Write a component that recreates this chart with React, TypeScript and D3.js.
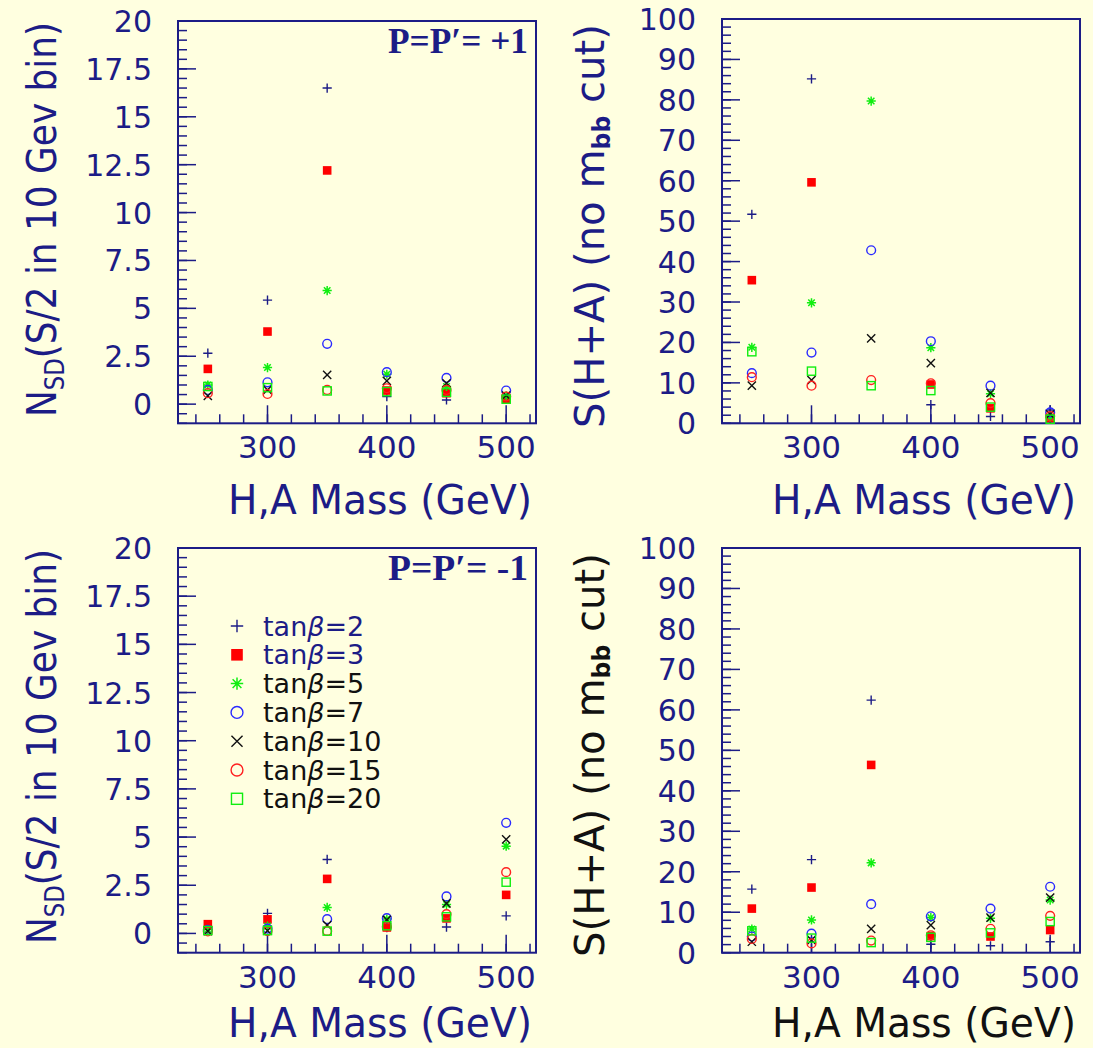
import React from "react";
import * as d3 from "d3";

const masses = [250, 300, 350, 400, 450, 500];
const seriesNames = ["tanβ=2", "tanβ=3", "tanβ=5", "tanβ=7", "tanβ=10", "tanβ=15", "tanβ=20"];
const seriesMarkers = ["plus", "fsquare", "star", "bcircle", "cross", "rcircle", "gsquare"];

// Top-left: N_SD, P=P'=+1
const nsdPlus_t2 = [2.66, 5.43, 16.5, 0.39, 0.22, 0.3];
const nsdPlus_t3 = [1.84, 3.79, 12.2, 0.71, 0.57, 0.27];
const nsdPlus_t5 = [1.0, 1.91, 5.93, 1.56, 0.92, 0.43];
const nsdPlus_t7 = [0.74, 1.14, 3.15, 1.67, 1.37, 0.71];
const nsdPlus_t10 = [0.43, 0.74, 1.53, 1.21, 1.09, 0.45];
const nsdPlus_t15 = [0.57, 0.53, 0.74, 0.83, 0.74, 0.4];
const nsdPlus_t20 = [0.92, 0.86, 0.69, 0.65, 0.62, 0.26];

// Top-right: S(H+A), P=P'=+1 (null = off scale)
const sPlus_t2 = [51.7, 85.2, null, 4.6, 1.7, 3.3];
const sPlus_t3 = [35.4, 59.6, null, 9.6, 3.7, 1.3];
const sPlus_t5 = [18.8, 29.8, 79.7, 18.7, 7.3, 1.5];
const sPlus_t7 = [12.4, 17.5, 42.8, 20.3, 9.3, 2.7];
const sPlus_t10 = [9.3, 10.7, 21.0, 14.9, 7.5, 2.2];
const sPlus_t15 = [11.4, 9.3, 10.7, 9.9, 5.0, 1.8];
const sPlus_t20 = [17.7, 12.9, 9.3, 8.1, 4.0, 1.0];

// Bottom-left: N_SD, P=P'=-1
const nsdMinus_t2 = [0.35, 1.04, 3.84, 0.3, 0.33, 0.91];
const nsdMinus_t3 = [0.48, 0.73, 2.83, 0.31, 0.78, 2.0];
const nsdMinus_t5 = [0.2, 0.38, 1.35, 0.75, 1.5, 4.53];
const nsdMinus_t7 = [0.18, 0.25, 0.74, 0.79, 1.92, 5.74];
const nsdMinus_t10 = [0.12, 0.15, 0.43, 0.7, 1.56, 4.88];
const nsdMinus_t15 = [0.1, 0.12, 0.13, 0.35, 1.0, 3.18];
const nsdMinus_t20 = [0.15, 0.15, 0.12, 0.4, 0.86, 2.66];

// Bottom-right: S(H+A), P=P'=-1
const sMinus_t2 = [15.7, 23.0, 62.4, 2.1, 1.7, 2.7];
const sMinus_t3 = [10.9, 16.1, 46.4, 4.1, 4.0, 5.6];
const sMinus_t5 = [5.85, 8.1, 22.2, 8.7, 8.5, 13.0];
const sMinus_t7 = [4.0, 4.7, 12.0, 9.0, 10.9, 16.3];
const sMinus_t10 = [2.7, 3.1, 5.9, 6.8, 8.65, 13.6];
const sMinus_t15 = [3.4, 2.3, 3.0, 4.3, 5.9, 9.1];
const sMinus_t20 = [5.4, 3.6, 2.5, 3.8, 4.9, 7.7];

const nsdTickLabels = ["0", "2.5", "5", "7.5", "10", "12.5", "15", "17.5", "20"];
const sTickLabels = ["0", "10", "20", "30", "40", "50", "60", "70", "80", "90", "100"];
const massTickLabels = ["300", "400", "500"];

const NAVY = "#1c1c86";
const BG = "#ffffe0";
const FONT = "'DejaVu Sans', sans-serif";

type Panel = {
  x0: number; x1: number; y0: number; y1: number;
  yDomain: [number, number]; yMajor: number; yMinor: number;
  yLabels: string[];
  series: (number | null)[][];
  title?: string;
  yTitle: "nsd" | "s";
  titleColor: string;
  xTitleColor: string;
  xTitleOffset: number;
  legend?: boolean;
};

const panels: Panel[] = [
  {
    x0: 178, x1: 536, y0: 21, y1: 423.3, yDomain: [-1, 20], yMajor: 2.5, yMinor: 0.5,
    yLabels: nsdTickLabels,
    series: [nsdPlus_t2, nsdPlus_t3, nsdPlus_t5, nsdPlus_t7, nsdPlus_t10, nsdPlus_t15, nsdPlus_t20],
    title: "P=P′= +1", yTitle: "nsd", titleColor: NAVY, xTitleColor: NAVY, xTitleOffset: 91,
  },
  {
    x0: 722, x1: 1080, y0: 19, y1: 423.3, yDomain: [0, 100], yMajor: 10, yMinor: 2,
    yLabels: sTickLabels,
    series: [sPlus_t2, sPlus_t3, sPlus_t5, sPlus_t7, sPlus_t10, sPlus_t15, sPlus_t20],
    yTitle: "s", titleColor: NAVY, xTitleColor: NAVY, xTitleOffset: 91,
  },
  {
    x0: 178, x1: 536, y0: 548, y1: 952.7, yDomain: [-1, 20], yMajor: 2.5, yMinor: 0.5,
    yLabels: nsdTickLabels,
    series: [nsdMinus_t2, nsdMinus_t3, nsdMinus_t5, nsdMinus_t7, nsdMinus_t10, nsdMinus_t15, nsdMinus_t20],
    title: "P=P′= -1", yTitle: "nsd", titleColor: NAVY, xTitleColor: NAVY, xTitleOffset: 84, legend: true,
  },
  {
    x0: 722, x1: 1080, y0: 548, y1: 952.7, yDomain: [0, 100], yMajor: 10, yMinor: 2,
    yLabels: sTickLabels,
    series: [sMinus_t2, sMinus_t3, sMinus_t5, sMinus_t7, sMinus_t10, sMinus_t15, sMinus_t20],
    yTitle: "s", titleColor: "#111", xTitleColor: "#111", xTitleOffset: 84,
  },
];

function Marker({ type, x, y, s = 1 }: { type: string; x: number; y: number; s?: number }) {
  const h = 4.6 * s;
  const sw = 1.4;
  switch (type) {
    case "plus":
      return <path d={`M${x - h},${y}H${x + h}M${x},${y - h}V${y + h}`} stroke={NAVY} strokeWidth={sw} fill="none" />;
    case "fsquare": {
      const a = 4.3 * s;
      return <rect x={x - a} y={y - a} width={2 * a} height={2 * a} fill="#ff0000" />;
    }
    case "star": {
      const d = h * 0.707;
      return (
        <path
          d={`M${x - h},${y}H${x + h}M${x},${y - h}V${y + h}M${x - d},${y - d}L${x + d},${y + d}M${x - d},${y + d}L${x + d},${y - d}`}
          stroke="#10ee10" strokeWidth={1.5} fill="none"
        />
      );
    }
    case "bcircle":
      return <circle cx={x} cy={y} r={4.4 * s} stroke="#2a2aff" strokeWidth={sw} fill="none" />;
    case "cross": {
      const d = 4.1 * s;
      return <path d={`M${x - d},${y - d}L${x + d},${y + d}M${x - d},${y + d}L${x + d},${y - d}`} stroke="#111" strokeWidth={sw} fill="none" />;
    }
    case "rcircle":
      return <circle cx={x} cy={y} r={4.4 * s} stroke="#ff2020" strokeWidth={sw} fill="none" />;
    case "gsquare": {
      const a = 4.1 * s;
      return <rect x={x - a} y={y - a} width={2 * a} height={2 * a} stroke="#10ee10" strokeWidth={sw} fill="none" />;
    }
    default:
      return null;
  }
}

function PanelView({ p }: { p: Panel }) {
  const xScale = d3.scaleLinear().domain([225, 525]).range([p.x0, p.x1]);
  const yScale = d3.scaleLinear().domain(p.yDomain).range([p.y1, p.y0]);
  const xMinor = d3.range(240, 525, 20);
  const xMajor = [300, 400, 500];
  const yMinorTicks = d3.range(p.yDomain[0], p.yDomain[1] + 1e-9, p.yMinor);
  const yMajorTicks = p.yLabels.map((_, i) => i * p.yMajor);
  const isNsd = p.yTitle === "nsd";
  return (
    <g>
      <rect x={p.x0} y={p.y0} width={p.x1 - p.x0} height={p.y1 - p.y0} fill="none" stroke={NAVY} strokeWidth={2} />
      {xMinor.map((v) => (
        <line key={"xm" + v} x1={xScale(v)} x2={xScale(v)} y1={p.y1} y2={p.y1 - 9} stroke={NAVY} strokeWidth={1.5} />
      ))}
      {xMajor.map((v) => (
        <line key={"xM" + v} x1={xScale(v)} x2={xScale(v)} y1={p.y1} y2={p.y1 - 18} stroke={NAVY} strokeWidth={1.5} />
      ))}
      {yMinorTicks.map((v) => (
        <line key={"ym" + v} x1={p.x0} x2={p.x0 + 9} y1={yScale(v)} y2={yScale(v)} stroke={NAVY} strokeWidth={1.5} />
      ))}
      {yMajorTicks.map((v) => (
        <line key={"yM" + v} x1={p.x0} x2={p.x0 + 18} y1={yScale(v)} y2={yScale(v)} stroke={NAVY} strokeWidth={1.5} />
      ))}
      {p.yLabels.map((lab, i) => (
        <text key={"yl" + lab} x={p.x0 - 26} y={yScale(yMajorTicks[i]) + 11} textAnchor="end" fontFamily={FONT} fontSize={30} fill={NAVY}>
          {lab}
        </text>
      ))}
      {massTickLabels.map((lab, i) => (
        <text key={"xl" + lab} x={xScale(xMajor[i])} y={p.y1 + 35} textAnchor="middle" fontFamily={FONT} fontSize={31} fill={NAVY}>
          {lab}
        </text>
      ))}
      <text x={p.x1 - 4} y={p.y1 + p.xTitleOffset} textAnchor="end" fontFamily={FONT} fontSize={41}
        fill={p.xTitleColor} textLength={304} lengthAdjust="spacingAndGlyphs">
        H,A Mass (GeV)
      </text>
      {isNsd ? (
        <text transform={`translate(${p.x0 - 122},${p.y0 + 1}) rotate(-90)`} textAnchor="end" fontFamily={FONT} fontSize={41}
          fill={p.titleColor} textLength={395} lengthAdjust="spacingAndGlyphs">
          N<tspan fontSize={26} dy={8}>SD</tspan><tspan dy={-8}>(S/2 in 10 Gev bin)</tspan>
        </text>
      ) : (
        <text transform={`translate(${p.x0 - 118},${p.y0 + 5}) rotate(-90)`} textAnchor="end" fontFamily={FONT} fontSize={41}
          fill={p.titleColor} textLength={404} lengthAdjust="spacingAndGlyphs">
          S(H+A) (no m<tspan fontSize={24} dy={6} fontWeight="bold">bb</tspan><tspan dy={-6}> cut)</tspan>
        </text>
      )}
      {p.title && (
        <text x={p.x1 - 8} y={p.y0 + 32} textAnchor="end" fontFamily="'Liberation Serif', serif" fontWeight="bold" fontSize={35} fill={NAVY}
          textLength={140} lengthAdjust="spacingAndGlyphs">
          {p.title}
        </text>
      )}
      {p.series.map((vals, si) =>
        vals.map((v, i) =>
          v === null ? null : <Marker key={`m${si}-${i}`} type={seriesMarkers[si]} x={xScale(masses[i])} y={yScale(v)} />
        )
      )}
      {p.legend &&
        seriesNames.map((name, i) => {
          const cy = p.y0 + 78 + i * 28.8;
          const [pre, num] = name.split("=");
          return (
            <g key={"lg" + name}>
              <Marker type={seriesMarkers[i]} x={237} y={cy} s={1.35} />
              <text x={263} y={cy + 9.5} fontFamily={FONT} fontSize={27} fill={i < 2 ? NAVY : "#111"}>
                {pre.replace("β", "")}<tspan fontStyle="italic">β</tspan>={num}
              </text>
            </g>
          );
        })}
    </g>
  );
}

export default function App() {
  return (
    <svg width={1093} height={1048} style={{ position: "absolute", left: 0, top: 0, background: BG }}>
      <rect x={0} y={0} width={1093} height={1048} fill={BG} />
      {panels.map((p, i) => (
        <PanelView key={i} p={p} />
      ))}
    </svg>
  );
}
